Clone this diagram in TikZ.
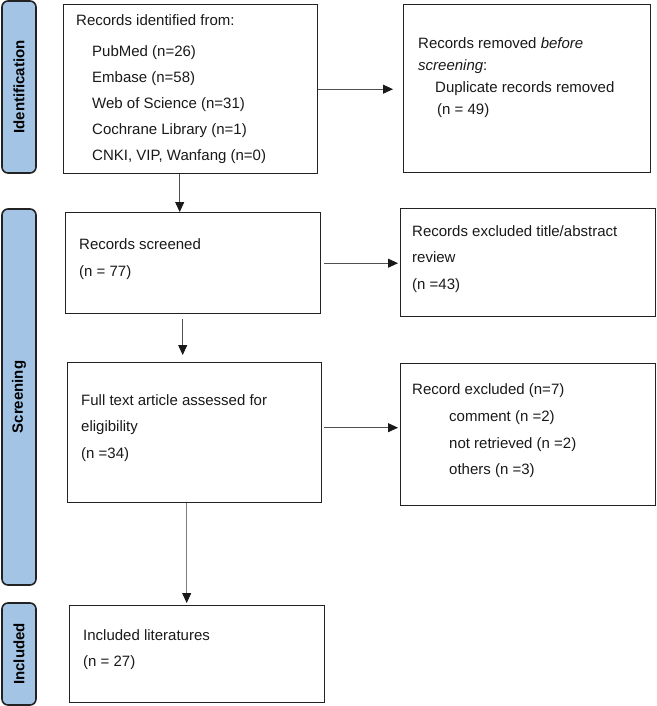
\documentclass[tikz,border=0pt]{standalone}
\usepackage{fontspec}
\setmainfont{Liberation Sans}
\usetikzlibrary{arrows.meta}
\definecolor{tabblue}{RGB}{164,196,230}
\definecolor{edgecol}{RGB}{34,34,34}
\definecolor{arrgray}{RGB}{80,80,80}
\definecolor{arrlight}{RGB}{125,125,125}
\begin{document}
\begin{tikzpicture}[x=1pt,y=-1pt,
  box/.style={draw=edgecol, line width=1.4pt, rectangle, anchor=north west, inner sep=0pt},
  tabbox/.style={draw=edgecol, line width=1.6pt, fill=tabblue, rounded corners=6pt, rotate=90,
    minimum height=34pt, inner sep=0pt, font=\fontsize{15}{18}\selectfont\bfseries},
  txt/.style={anchor=west, align=left, inner sep=0pt, text=black!90, font=\fontsize{15}{26.5}\selectfont},
  arr/.style={draw=arrgray, line width=0.9pt, -{Triangle[length=10pt,width=9pt,color=black!90]}}]
\useasboundingbox (0,0) rectangle (656,706);

% phase tabs
\node[tabbox, minimum width=172pt] (tid) at (19,87) {Identification};
\node[tabbox, minimum width=376pt] (tscr) at (19,397) {Screening};
\node[tabbox, minimum width=102pt] (tinc) at (19,654) {Included};

% boxes
\node[box, minimum width=254pt, minimum height=169pt] (b1) at (63,4) {};
\node[box, minimum width=247pt, minimum height=168pt] (b2) at (403,4) {};
\node[box, minimum width=255pt, minimum height=101pt] (b3) at (65,212) {};
\node[box, minimum width=255pt, minimum height=108pt] (b4) at (400,208) {};
\node[box, minimum width=254pt, minimum height=140pt] (b5) at (67,362) {};
\node[box, minimum width=255pt, minimum height=142pt] (b6) at (400,363) {};
\node[box, minimum width=255pt, minimum height=97pt] (b7) at (69,605) {};

% texts
\node[txt, font=\fontsize{15}{26}\selectfont] (t1) at (76,89) {Records identified from:\\[5pt]
  \hspace*{16pt}PubMed (n=26)\\
  \hspace*{16pt}Embase (n=58)\\
  \hspace*{16pt}Web of Science (n=31)\\
  \hspace*{16pt}Cochrane Library (n=1)\\
  \hspace*{16pt}CNKI, VIP, Wanfang (n=0)};
\node[txt, font=\fontsize{15}{22}\selectfont] (t2) at (418,78) {Records removed \textit{before}\\
  \textit{screening}:\\
  \hspace*{17pt}Duplicate records removed\\
  \hspace*{19pt}(n = 49)};
\node[txt, font=\fontsize{15}{27}\selectfont] (t3) at (79,259) {Records screened\\(n = 77)};
\node[txt] (t4) at (412,259) {Records excluded title/abstract\\review\\(n =43)};
\node[txt] (t5) at (81,428) {Full text article assessed for\\eligibility\\(n =34)};
\node[txt, font=\fontsize{15}{26.7}\selectfont] (t6) at (412,431) {Record excluded (n=7)\\
  \hspace*{37pt}comment (n =2)\\
  \hspace*{37pt}not retrieved (n =2)\\
  \hspace*{37pt}others (n =3)};
\node[txt, font=\fontsize{15}{26}\selectfont] (t7) at (83,650) {Included literatures\\(n = 27)};

% connectors
\draw[arr, shorten >=10pt] (b1.east) -- (b1.east -| b2.west);
\draw[arr, shorten <=3pt, shorten >=2pt] (b3.east) -- (b3.east -| b4.west);
\coordinate (p56) at ([yshift=5pt]b5.east);
\draw[arr, shorten <=2pt, shorten >=2pt] (p56) -- (p56 -| b6.west);
\coordinate (p13) at ([xshift=-11pt]b1.south);
\draw[arr] (p13) -- (p13 |- b3.north);
\coordinate (p35) at ([xshift=-10.5pt]b3.south);
\draw[arr, shorten <=5pt, shorten >=7pt] (p35) -- (p35 |- b5.north);
\coordinate (p57) at ([xshift=-8pt]b5.south);
\draw[arr, draw=arrlight, shorten >=2pt] (p57) -- (p57 |- b7.north);
\end{tikzpicture}
\end{document}
